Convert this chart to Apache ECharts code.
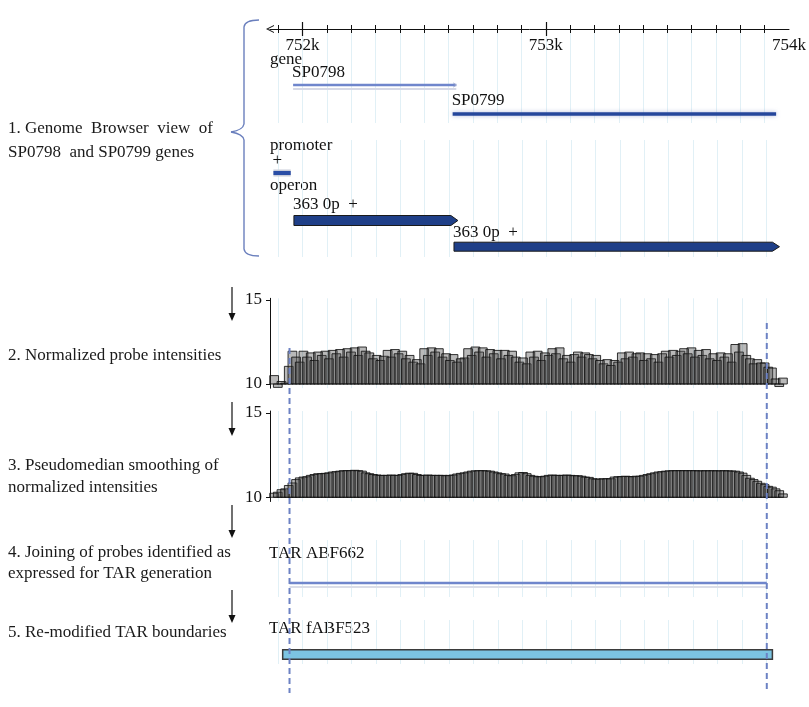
<!DOCTYPE html>
<html>
<head>
<meta charset="utf-8">
<script src="https://cdn.jsdelivr.net/npm/echarts@6/dist/echarts.min.js"></script>
<style>html,body{margin:0;padding:0;background:#fff}#c{width:809px;height:707px}</style>
</head>
<body>
<div id="c"></div>
<script>
// ---------------- DATA ----------------
const axisMin = 751866, axisMax = 754000;
const majorTicks = [752000, 753000, 754000];
const majorTickLabels = ['752k', '753k', '754k'];
const majorTickMarks = [752000, 753000];
const minorTicks = [751900, 752000, 752100, 752200, 752300, 752400, 752500, 752600, 752700, 752800, 752900,
  753000, 753100, 753200, 753300, 753400, 753500, 753600, 753700, 753800, 753900];
const intensityTicks = [10, 15];

const genes = [
  { name: 'SP0798', start: 751961, end: 752632 },
  { name: 'SP0799', start: 752617, end: 753947 }
];
const promoters = [{ name: '+', start: 751880, end: 751951 }];
const operons = [
  { name: '363 0p  +', start: 751964, end: 752636 },
  { name: '363 0p  +', start: 752620, end: 753954 }
];
const tars = [{ name: 'TAR ABF662', start: 751946, end: 753902 }];
const modifiedTars = [{ name: 'TAR fABF523', start: 751918, end: 753925 }];

// tiling probes
const probeFirstStart = 751865, probeStep = 15, probeLength = 36;
const normalizedIntensity = [
  10.5, 9.8, 10.15, 10.05, 11.05, 11.95, 11.6, 11.3, 11.95, 11.6,
  11.85, 11.4, 11.9, 11.7, 11.95, 11.5, 12.0, 11.8, 12.05, 11.6,
  12.1, 11.9, 12.15, 11.7, 12.2, 11.95, 11.85, 11.5, 11.7, 11.4,
  11.65, 12.0, 11.6, 12.05, 11.8, 11.95, 11.5, 11.7, 11.3, 11.45,
  11.2, 12.1, 11.7, 12.15, 11.9, 12.1, 11.6, 11.8, 11.4, 11.75,
  11.3, 11.5, 11.55, 12.1, 11.7, 12.2, 11.9, 12.15, 11.6, 12.05,
  11.8, 12.0, 11.5, 12.0, 11.7, 11.95, 11.6, 11.3, 11.55, 11.2,
  11.9, 11.6, 11.95, 11.4, 11.85, 11.7, 12.1, 11.8, 12.15, 11.5,
  11.7, 11.3, 11.75, 11.9, 11.6, 11.85, 11.75, 11.5, 11.7, 11.4,
  11.2, 11.45, 11.1, 11.4, 11.3, 11.85, 11.5, 11.9, 11.6, 11.8,
  11.85, 11.4, 11.8, 11.5, 11.75, 11.3, 11.8, 11.95, 11.6, 12.0,
  11.7, 11.95, 12.1, 11.8, 12.15, 11.6, 12.0, 11.7, 12.05, 11.5,
  11.8, 11.4, 11.85, 11.6, 11.8, 11.3, 12.35, 11.9, 12.4, 11.7,
  11.5, 11.2, 11.45, 11.25, 11.25, 11.0, 10.95, 10.3, 9.85, 10.35
];
const smoothedIntensity = [
  10.24, 10.3, 10.45, 10.5, 10.7, 10.85, 11.05, 11.15, 11.2, 11.22,
  11.3, 11.35, 11.4, 11.4, 11.42, 11.45, 11.5, 11.52, 11.55, 11.58,
  11.58, 11.58, 11.6, 11.58, 11.55, 11.45, 11.4, 11.35, 11.32, 11.3,
  11.3, 11.3, 11.32, 11.3, 11.3, 11.35, 11.4, 11.43, 11.42, 11.35,
  11.3, 11.3, 11.32, 11.3, 11.3, 11.3, 11.3, 11.28, 11.3, 11.32,
  11.38, 11.42, 11.45, 11.5, 11.55, 11.57, 11.58, 11.58, 11.57, 11.55,
  11.5, 11.45, 11.4, 11.38, 11.3, 11.28, 11.35, 11.45, 11.47, 11.4,
  11.3, 11.25, 11.22, 11.22, 11.25, 11.3, 11.32, 11.3, 11.3, 11.3,
  11.32, 11.3, 11.28, 11.28, 11.25, 11.2, 11.18, 11.1, 11.08, 11.08,
  11.1, 11.1, 11.1, 11.2, 11.22, 11.23, 11.25, 11.23, 11.22, 11.25,
  11.25, 11.3, 11.35, 11.4, 11.45, 11.5, 11.52, 11.55, 11.57, 11.58,
  11.58, 11.58, 11.58, 11.58, 11.58, 11.58, 11.57, 11.57, 11.58, 11.57,
  11.58, 11.57, 11.57, 11.58, 11.57, 11.56, 11.55, 11.5, 11.43, 11.3,
  11.13, 11.05, 10.95, 10.83, 10.75, 10.65, 10.6, 10.5, 10.39, 10.2
];
const baseline = 10;

// ---------------- LAYOUT / STYLE ----------------
const FONT = "'Liberation Serif','DejaVu Serif','Times New Roman',serif";
const F17 = '17px ' + FONT;
const GL = 270, GR = 18.3;
const splitColor = '#e1f0f6';
const geneLane = { SP0798: { label: 44, line: 56 }, SP0799: { label: 72, line: 85 } };
const promoterLane = { label: 21, bar: 33 };
const operonLane = [{ label: 65, bar: 80.5, h: 10 }, { label: 93, bar: 106.7, h: 9 }];
const tarLane = { line: 43 };
const modTarLane = { bar: 34.5, h: 9.5 };
const dashTop = [30, 5], dashBottom = 375;

const probeData = (vals) => vals.map((v, i) => [probeFirstStart + probeStep * i, v]);

function hiddenX(gridIndex, split) {
  return {
    type: 'value', gridIndex, min: axisMin, max: axisMax,
    axisLine: { show: false }, axisLabel: { show: false },
    axisTick: { show: false, customValues: minorTicks },
    splitLine: { show: !!split, lineStyle: { color: splitColor, width: 1 } }
  };
}
function hiddenY(gridIndex, max) {
  return { type: 'value', gridIndex, min: 0, max, inverse: true, show: false };
}
function intensityY(gridIndex, max) {
  return {
    type: 'value', gridIndex, min: 9.75, max,
    axisLine: { show: true, lineStyle: { color: '#111', width: 1 } },
    axisTick: { show: true, customValues: intensityTicks, length: 4, lineStyle: { color: '#111' } },
    axisLabel: { show: true, customValues: intensityTicks, margin: 8, color: '#111', fontSize: 17, fontFamily: FONT },
    splitLine: { show: false }
  };
}

const probeRender = (params, api) => {
  const s = api.value(0), v = api.value(1);
  const p0 = api.coord([s, baseline]);
  const p1 = api.coord([s + probeLength, v]);
  return {
    type: 'rect',
    shape: { x: p0[0], y: Math.min(p0[1], p1[1]), width: p1[0] - p0[0], height: Math.abs(p1[1] - p0[1]) },
    style: { fill: 'rgba(70,70,70,0.38)', stroke: '#111', lineWidth: 0.85 }
  };
};

const braceStyle = { stroke: '#6a7fbd', lineWidth: 1.4, fill: null };

const option = {
  animation: false,
  backgroundColor: '#ffffff',
  grid: [
    { left: GL, right: GR, top: 29, height: 94 },
    { left: GL, right: GR, top: 140, height: 117 },
    { left: GL, right: GR, top: 298.3, height: 89.9 },
    { left: GL, right: GR, top: 411, height: 90.5 },
    { left: GL, right: GR, top: 540, height: 57 },
    { left: GL, right: GR, top: 620, height: 44 },
    { left: GL, right: GR, top: 318, height: 377 }
  ],
  xAxis: [
    { // 0 genome coordinate axis
      type: 'value', gridIndex: 0, min: axisMin, max: axisMax, position: 'top',
      axisLine: { show: true, symbol: ['path://M0,10 L5,0 L10,10 L8.6,10 L5,2.6 L1.4,10 Z', 'none'], symbolSize: [8, 8],
        lineStyle: { color: '#111', width: 1 } },
      axisTick: { show: true, customValues: minorTicks, length: 4, inside: false, lineStyle: { color: '#111' } },
      axisLabel: { show: true, inside: true, margin: 8, customValues: majorTicks,
        formatter: (v) => majorTickLabels[majorTicks.indexOf(v)] || '',
        color: '#111', fontSize: 17, fontFamily: FONT },
      splitLine: { show: true, lineStyle: { color: splitColor, width: 1 } }
    },
    { // 1 minor ticks downward
      type: 'value', gridIndex: 0, min: axisMin, max: axisMax, position: 'top',
      axisLine: { show: false }, axisLabel: { show: false }, splitLine: { show: false },
      axisTick: { show: true, customValues: minorTicks, length: 4, inside: true, lineStyle: { color: '#111' } }
    },
    { // 2 major ticks upward
      type: 'value', gridIndex: 0, min: axisMin, max: axisMax, position: 'top',
      axisLine: { show: false }, axisLabel: { show: false }, splitLine: { show: false },
      axisTick: { show: true, customValues: majorTickMarks, length: 7, inside: false, lineStyle: { color: '#111', width: 1.2 } }
    },
    { // 3 major ticks downward
      type: 'value', gridIndex: 0, min: axisMin, max: axisMax, position: 'top',
      axisLine: { show: false }, axisLabel: { show: false }, splitLine: { show: false },
      axisTick: { show: true, customValues: majorTickMarks, length: 7, inside: true, lineStyle: { color: '#111', width: 1.2 } }
    },
    hiddenX(1, true),   // 4
    hiddenX(2, true),   // 5
    hiddenX(3, true),   // 6
    hiddenX(4, true),   // 7
    hiddenX(5, true),   // 8
    hiddenX(6, false)   // 9
  ],
  yAxis: [
    hiddenY(0, 94),
    hiddenY(1, 117),
    intensityY(2, 15.1),
    intensityY(3, 15.12),
    hiddenY(4, 57),
    hiddenY(5, 44),
    hiddenY(6, 377)
  ],
  series: [
    { // genes
      type: 'custom', xAxisIndex: 0, yAxisIndex: 0, encode: { x: [0, 1] },
      data: genes.map(g => [g.start, g.end]),
      renderItem: (params, api) => {
        const g = genes[params.dataIndex];
        const lane = geneLane[g.name];
        const a = api.coord([api.value(0), lane.line]);
        const b = api.coord([api.value(1), lane.line]);
        const ly = api.coord([api.value(0), lane.label])[1];
        const children = [];
        if (g.name === 'SP0798') {
          children.push({ type: 'line', shape: { x1: a[0], y1: a[1] + 4, x2: b[0], y2: a[1] + 4 }, style: { stroke: '#d6d9e6', lineWidth: 2 } });
          children.push({ type: 'line', shape: { x1: a[0], y1: a[1], x2: b[0], y2: a[1] }, style: { stroke: '#6f86cc', lineWidth: 2.5 } });
          children.push({ type: 'polyline', shape: { points: [[b[0] - 3, a[1] - 2], [b[0], a[1]], [b[0] - 3, a[1] + 2]] }, style: { stroke: '#9aa6cf', lineWidth: 1, fill: null } });
        } else {
          children.push({ type: 'line', shape: { x1: a[0], y1: a[1], x2: b[0], y2: a[1] }, style: { stroke: '#24469b', lineWidth: 3.5, shadowBlur: 4, shadowColor: 'rgba(110,130,190,0.55)' } });
        }
        children.push({ type: 'text', style: { x: a[0] - 1, y: ly, text: g.name, font: F17, fill: '#111', verticalAlign: 'middle', align: 'left' } });
        return { type: 'group', children };
      }
    },
    { // promoter
      type: 'custom', xAxisIndex: 4, yAxisIndex: 1, encode: { x: [0, 1] },
      data: promoters.map(p => [p.start, p.end]),
      renderItem: (params, api) => {
        const p = promoters[params.dataIndex];
        const a = api.coord([api.value(0), promoterLane.bar]);
        const b = api.coord([api.value(1), promoterLane.bar]);
        const ly = api.coord([api.value(0), promoterLane.label])[1];
        return { type: 'group', children: [
          { type: 'rect', shape: { x: a[0], y: a[1] - 3.5, width: b[0] - a[0], height: 7 }, style: { fill: '#c9cdd9' } },
          { type: 'rect', shape: { x: a[0], y: a[1] - 2, width: b[0] - a[0], height: 4 }, style: { fill: '#2a4ea6' } },
          { type: 'text', style: { x: a[0] - 1, y: ly, text: p.name, font: F17, fill: '#111', verticalAlign: 'middle' } }
        ] };
      }
    },
    { // operons
      type: 'custom', xAxisIndex: 4, yAxisIndex: 1, encode: { x: [0, 1] },
      data: operons.map(o => [o.start, o.end]),
      renderItem: (params, api) => {
        const o = operons[params.dataIndex];
        const lane = operonLane[params.dataIndex];
        const a = api.coord([api.value(0), lane.bar]);
        const b = api.coord([api.value(1), lane.bar]);
        const ly = api.coord([api.value(0), lane.label])[1];
        const h = lane.h, tip = 7, y = a[1];
        return { type: 'group', children: [
          { type: 'polygon', shape: { points: [[a[0], y - h / 2], [b[0] - tip, y - h / 2], [b[0], y], [b[0] - tip, y + h / 2], [a[0], y + h / 2]] },
            style: { fill: '#1f3f88', stroke: '#1a1a1a', lineWidth: 1 } },
          { type: 'text', style: { x: a[0] - 1, y: ly, text: o.name, font: F17, fill: '#111', verticalAlign: 'middle' } }
        ] };
      }
    },
    { // normalized probe intensities
      type: 'custom', xAxisIndex: 5, yAxisIndex: 2,
      data: probeData(normalizedIntensity), renderItem: probeRender
    },
    { // pseudomedian smoothing
      type: 'custom', xAxisIndex: 6, yAxisIndex: 3,
      data: probeData(smoothedIntensity), renderItem: probeRender
    },
    { // TAR
      type: 'custom', xAxisIndex: 7, yAxisIndex: 4, encode: { x: [0, 1] },
      data: tars.map(t => [t.start, t.end]),
      renderItem: (params, api) => {
        const a = api.coord([api.value(0), tarLane.line]);
        const b = api.coord([api.value(1), tarLane.line]);
        return { type: 'group', children: [
          { type: 'line', shape: { x1: a[0], y1: a[1] + 4, x2: b[0], y2: a[1] + 4 }, style: { stroke: '#dadde8', lineWidth: 2 } },
          { type: 'line', shape: { x1: a[0], y1: a[1], x2: b[0], y2: a[1] }, style: { stroke: '#6f86cc', lineWidth: 2.5 } }
        ] };
      }
    },
    { // modified TAR
      type: 'custom', xAxisIndex: 8, yAxisIndex: 5, encode: { x: [0, 1] },
      data: modifiedTars.map(t => [t.start, t.end]),
      renderItem: (params, api) => {
        const a = api.coord([api.value(0), modTarLane.bar]);
        const b = api.coord([api.value(1), modTarLane.bar]);
        return { type: 'rect', shape: { x: a[0], y: a[1] - modTarLane.h / 2, width: b[0] - a[0], height: modTarLane.h },
          style: { fill: '#7cc4e2', stroke: '#3b3b3b', lineWidth: 1.5 } };
      }
    },
    { // TAR boundary dashed lines
      type: 'custom', xAxisIndex: 9, yAxisIndex: 6, encode: { x: 0 },
      data: [[tars[0].start], [tars[0].end]],
      renderItem: (params, api) => {
        const t = api.coord([api.value(0), dashTop[params.dataIndex]]);
        const b = api.coord([api.value(0), dashBottom]);
        return { type: 'line', shape: { x1: t[0], y1: t[1], x2: b[0], y2: b[1] },
          style: { stroke: '#6c82c4', lineWidth: 2, lineDash: [6, 4] } };
      }
    }
  ],
  graphic: [
    // step descriptions
    { type: 'text', x: 8, y: 129, style: { text: '1. Genome  Browser  view  of', font: F17, fill: '#1a1a1a', verticalAlign: 'middle' } },
    { type: 'text', x: 8, y: 153, style: { text: 'SP0798  and SP0799 genes', font: F17, fill: '#1a1a1a', verticalAlign: 'middle' } },
    { type: 'text', x: 8, y: 356, style: { text: '2. Normalized probe intensities', font: F17, fill: '#1a1a1a', verticalAlign: 'middle' } },
    { type: 'text', x: 8, y: 466, style: { text: '3. Pseudomedian smoothing of', font: F17, fill: '#1a1a1a', verticalAlign: 'middle' } },
    { type: 'text', x: 8, y: 488, style: { text: 'normalized intensities', font: F17, fill: '#1a1a1a', verticalAlign: 'middle' } },
    { type: 'text', x: 8, y: 553, style: { text: '4. Joining of probes identified as', font: F17, fill: '#1a1a1a', verticalAlign: 'middle' } },
    { type: 'text', x: 8, y: 574, style: { text: 'expressed for TAR generation', font: F17, fill: '#1a1a1a', verticalAlign: 'middle' } },
    { type: 'text', x: 8, y: 633, style: { text: '5. Re-modified TAR boundaries', font: F17, fill: '#1a1a1a', verticalAlign: 'middle' } },
    // track labels
    { type: 'text', x: 270, y: 60, style: { text: 'gene', font: F17, fill: '#111', verticalAlign: 'middle' } },
    { type: 'text', x: 270, y: 146, style: { text: 'promoter', font: F17, fill: '#111', verticalAlign: 'middle' } },
    { type: 'text', x: 270, y: 186, style: { text: 'operon', font: F17, fill: '#111', verticalAlign: 'middle' } },
    { type: 'text', x: 269, y: 554, style: { text: tars[0].name, font: F17, fill: '#111', verticalAlign: 'middle' } },
    { type: 'text', x: 269, y: 629, style: { text: modifiedTars[0].name, font: F17, fill: '#111', verticalAlign: 'middle' } },
    // brace
    { type: 'bezierCurve', shape: { x1: 259, y1: 20, cpx1: 245, cpy1: 20, x2: 244, y2: 27 }, style: braceStyle },
    { type: 'line', shape: { x1: 244, y1: 27, x2: 244, y2: 124 }, style: braceStyle },
    { type: 'bezierCurve', shape: { x1: 244, y1: 124, cpx1: 243, cpy1: 130, x2: 231, y2: 132 }, style: braceStyle },
    { type: 'bezierCurve', shape: { x1: 231, y1: 132, cpx1: 243, cpy1: 134, x2: 244, y2: 140 }, style: braceStyle },
    { type: 'line', shape: { x1: 244, y1: 140, x2: 244, y2: 249 }, style: braceStyle },
    { type: 'bezierCurve', shape: { x1: 244, y1: 249, cpx1: 245, cpy1: 256, x2: 259, y2: 256 }, style: braceStyle },
    // arrows
    ...[[287, 321], [402, 436], [505, 538], [590, 623]].flatMap(([y0, y1]) => [
      { type: 'line', shape: { x1: 232, y1: y0, x2: 232, y2: y1 - 6 }, style: { stroke: '#111', lineWidth: 1.2 } },
      { type: 'polygon', shape: { points: [[228.5, y1 - 8], [235.5, y1 - 8], [232, y1]] }, style: { fill: '#111' } }
    ])
  ]
};

const chart = echarts.init(document.getElementById('c'), null, { renderer: 'canvas', width: 809, height: 707 });
chart.setOption(option);
</script>
</body>
</html>
